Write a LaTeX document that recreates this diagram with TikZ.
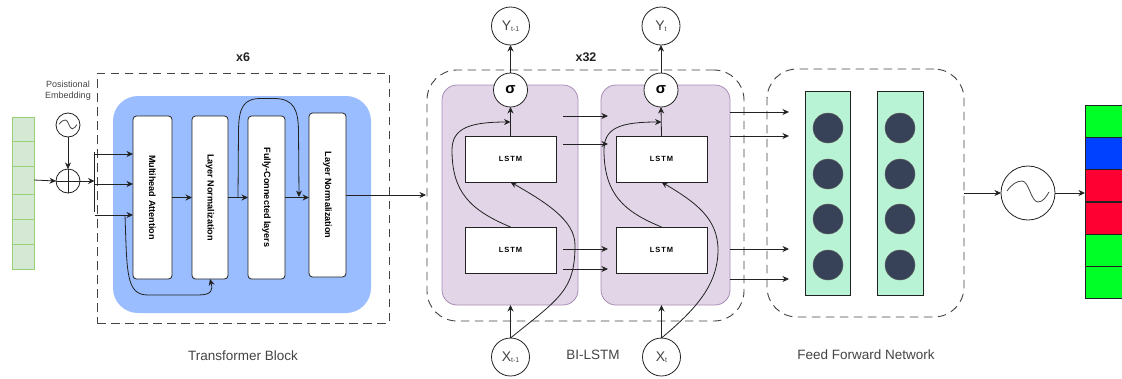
\documentclass[tikz,border=0pt]{standalone}
\usepackage{fontspec}
\setmainfont{Liberation Sans}
\usetikzlibrary{arrows.meta}
\definecolor{ink}{HTML}{222222}
\definecolor{labelgrey}{HTML}{444444}
\definecolor{dashgrey}{HTML}{444444}
\definecolor{inputfill}{HTML}{D5E8D4}
\definecolor{inputline}{HTML}{97D077}
\definecolor{bluefill}{HTML}{99BDFF}
\definecolor{purplefill}{HTML}{E1D5E7}
\definecolor{purpleline}{HTML}{A98BB8}
\definecolor{tealfill}{HTML}{B9F3D6}
\definecolor{neuron}{HTML}{374258}
\definecolor{outgreen}{HTML}{00FF26}
\definecolor{outblue}{HTML}{0040FF}
\definecolor{outred}{HTML}{FF0033}
\tikzset{
  every node/.style={inner sep=0pt,outer sep=0pt},
  wire/.style={draw=ink,line width=.8pt},
  arrow/.style={wire,-{Stealth[length=6.5pt,width=6pt]}},
  dashbox/.style={draw=dashgrey,line width=.9pt,dash pattern=on 8.5pt off 5.5pt},
  panel/.style={fill=bluefill,rounded corners=25pt},
  layerbox/.style={draw=ink,fill=white,line width=.8pt,rounded corners=3.5pt,font=\fontsize{9.1}{10}\selectfont\bfseries},
  lstmbox/.style={draw=ink,fill=white,line width=.8pt,minimum width=91pt,minimum height=46pt,font=\fontsize{7.5}{9}\selectfont\bfseries\addfontfeatures{LetterSpace=12}},
  purple/.style={draw=purpleline,fill=purplefill,line width=.8pt,rounded corners=15pt},
  ring/.style={circle,draw=ink,fill=white,line width=.8pt},
  term/.style={ring,minimum size=38pt,text=labelgrey},
  sigma/.style={ring,minimum size=34pt,font=\fontsize{15}{15}\selectfont\bfseries},
  incell/.style={draw=inputline,fill=inputfill,line width=.8pt,minimum width=22pt},
  outcell/.style={draw=ink,line width=.8pt,minimum width=40pt,minimum height=32.2pt},
  ffcol/.style={draw=ink,fill=tealfill,line width=.8pt},
  neuronnode/.style={circle,draw=ink!70,fill=neuron,line width=.5pt,minimum size=30pt},
  caption/.style={text=labelgrey,font=\fontsize{13.5}{15}\selectfont},
  count/.style={text=ink,font=\fontsize{12.5}{14}\selectfont\bfseries},
  wave/.style={draw=dashgrey,line width=.8pt}
}
\newcommand{\sinewave}[2]{%
  \begin{scope}[shift={(#1)},scale=#2]
    \draw[wave] (-21,-2) .. controls (-16,-9) and (-11,-12) .. (-6,-12)
      .. controls (1,-12) and (3,9) .. (10,9)
      .. controls (15,9) and (18,4) .. (21,-1);
  \end{scope}}
\newcommand{\termtext}[2]{{\fontsize{14}{14}\selectfont #1}{\raisebox{-1.5pt}{\fontsize{7}{7}\selectfont #2}}}
\begin{document}
\begin{tikzpicture}[x=1pt,y=-1pt]
\clip (0,0) rectangle (1122,378);
\fill[white] (0,0) rectangle (1122,378);

% input strip
\node[incell,minimum height=24pt] (c1) at (23,129) {};
\node[incell,minimum height=25pt] (c2) at (23,153.5) {};
\node[incell,minimum height=28pt] (c3) at (23,180) {};
\node[incell,minimum height=25pt] (c4) at (23,206.5) {};
\node[incell,minimum height=25pt] (c5) at (23,231.5) {};
\node[incell,minimum height=25pt] (c6) at (23,256.5) {};

% positional embedding
\node[text=labelgrey,align=center,font=\fontsize{9}{11.5}\selectfont] (pe) at (68,90.5) {Posistional\\Embedding};
\node[ring,minimum size=24pt] (sine) at (68,125) {};
\sinewave{68,125}{.42}
\node[ring,minimum size=24pt] (plus) at (68,181) {};
\draw[wire] (plus.north) -- (plus.south) (plus.west) -- (plus.east);
\coordinate (barmid) at (94.5,181);
\coordinate (tap1) at (94.5,154);
\coordinate (tap2) at (94.5,184);
\coordinate (tap3) at (94.5,215);

% transformer block
\node[dashbox,minimum width=292pt,minimum height=250pt] (tb) at (243,198) {};
\node[panel,minimum width=258pt,minimum height=217pt] (blue) at (242,204.5) {};
\node[layerbox,minimum width=39pt,minimum height=163pt] (mh) at (152.5,197.5) {\rotatebox{-90}{Multihead Attention}};
\node[layerbox,minimum width=36pt,minimum height=163pt] (ln1) at (210,197.5) {\rotatebox{-90}{Layer Normalization}};
\node[layerbox,minimum width=37pt,minimum height=163pt] (fc) at (266.5,197.5) {\rotatebox{-90}{Fully-Connected layers}};
\node[layerbox,minimum width=37pt,minimum height=164pt] (ln2) at (327.5,195) {\rotatebox{-90}{Layer Normalization}};
\node[count] (x6) at (243,57) {x6};
\node[caption] (tbl) at (243,356) {Transformer Block};

\draw[arrow] (c3.east) -- (plus.west);
\draw[arrow] (sine.south) -- (plus.north);
\draw[arrow] (plus.east) -- (barmid);
\draw[wire,line width=1pt] (94.5,152) -- (94.5,212);
\draw[arrow] (tap1) -- (mh.west |- tap1);
\draw[arrow] (tap2) -- (mh.west |- tap2);
\draw[arrow] (tap3) -- (mh.west |- tap3);
\draw[arrow] (mh.east) -- (ln1.west);
\draw[arrow] (ln1.east) -- (fc.west);
\draw[arrow] (fc.east) -- (ln2.west |- fc.east);
\draw[arrow] (ln2.east) -- (426,195);
\coordinate (skip1) at (125,215);
\coordinate (skip2) at (238,197.5);
\draw[arrow] (skip1) .. controls (127,273) and (126,295) .. (148,295)
  -- (198,295) .. controls (212,295) and (213,290) .. (ln1.south);
\draw[arrow] (skip2) -- (238.5,130) .. controls (239,108) and (243,98) .. (262,98.5)
  -- (275,98.5) .. controls (294,99) and (298,110) .. (298.5,130) -- (299,197);

% BI-LSTM block
\node[dashbox,rounded corners=30pt,minimum width=317pt,minimum height=251pt] (bi) at (585.5,195.5) {};
\node[purple,minimum width=136pt,minimum height=220pt] (p1) at (510,195) {};
\node[purple,minimum width=129pt,minimum height=220pt] (p2) at (665.5,195) {};
\node[lstmbox] (l1t) at (510.5,159) {LSTM};
\node[lstmbox] (l1b) at (510.5,250) {LSTM};
\node[lstmbox] (l2t) at (661.5,159) {LSTM};
\node[lstmbox] (l2b) at (661.5,250) {LSTM};
\node[sigma] (s1) at (510.5,90) {σ};
\node[sigma] (s2) at (661,90) {σ};
\node[term] (y1) at (510.5,26) {\termtext{Y}{t-1}};
\node[term] (y2) at (661,26) {\termtext{Y}{t}};
\node[term] (x1) at (510.5,357) {\termtext{X}{t-1}};
\node[term] (x2) at (661.5,357) {\termtext{X}{t}};
\node[count] (x32) at (586,57) {x32};
\node[caption] (bl) at (593,355) {BI-LSTM};

\draw[arrow] (s1.north) -- (y1.south);
\draw[arrow] (s2.north) -- (y2.south);
\draw[arrow] (l1t.north) -- (s1.south);
\draw[arrow] (l2t.north) -- (s2.south);
\draw[arrow] (x1.north) -- (x1 |- p1.south);
\draw[arrow] (x2.north) -- (x2 |- p2.south);
\coordinate (j1) at (510.5,122);
\coordinate (j2) at (661.5,122);
\draw[arrow] (l1b.north) .. controls (470,210) and (452,192) .. (452,150)
  .. controls (452,128) and (470,122) .. (j1);
\draw[arrow] (l2b.north) .. controls (625,212) and (604,195) .. (604,150)
  .. controls (604,128) and (620,122) .. (j2);
\draw[arrow] (x1.north) .. controls (560,298) and (575,290) .. (575,245)
  .. controls (575,220) and (545,202) .. (l1t.south);
\draw[arrow] (x2.north) .. controls (695,310) and (718,285) .. (718,250)
  .. controls (718,218) and (695,202) .. (l2t.south);
\draw[arrow] (563,116) -- (608,116);
\draw[arrow] (563,144) -- (608,144);
\draw[arrow] (563,249) -- (608,249);
\draw[arrow] (563,269) -- (608,269);

% feed forward network
\node[dashbox,rounded corners=30pt,minimum width=197pt,minimum height=248pt] (ff) at (865.5,193) {};
\node[ffcol,minimum width=45pt,minimum height=204pt] (col1) at (827.5,193) {};
\node[ffcol,minimum width=46pt,minimum height=204pt] (col2) at (900,193) {};
\node[neuronnode] (n11) at (828,128) {};
\node[neuronnode] (n12) at (828,174) {};
\node[neuronnode] (n13) at (828,219) {};
\node[neuronnode] (n14) at (828,265) {};
\node[neuronnode] (n21) at (900,128) {};
\node[neuronnode] (n22) at (900,174) {};
\node[neuronnode] (n23) at (900,219) {};
\node[neuronnode] (n24) at (900,265) {};
\node[caption] (fl) at (866,355) {Feed Forward Network};
\coordinate (in1) at (789,112);
\coordinate (in2) at (789,136);
\coordinate (in3) at (789,249);
\coordinate (in4) at (789,279);
\draw[arrow] (p2.east |- in1) -- (in1);
\draw[arrow] (p2.east |- in2) -- (in2);
\draw[arrow] (p2.east |- in3) -- (in3);
\draw[arrow] (p2.east |- in4) -- (in4);

% softmax and output
\node[ring,minimum size=54pt] (soft) at (1028,193) {};
\sinewave{1028,193}{1}
\node[outcell,fill=outgreen] (o1) at (1105,121) {};
\node[outcell,fill=outblue] (o2) at (1105,153) {};
\node[outcell,fill=outred] (o3) at (1105,185.5) {};
\node[outcell,fill=outred] (o4) at (1105,218) {};
\node[outcell,fill=outgreen] (o5) at (1105,250) {};
\node[outcell,fill=outgreen] (o6) at (1105,282) {};
\draw[arrow] (ff.east) -- (soft.west);
\draw[arrow] (soft.east) -- (o3.west |- soft.east);
\end{tikzpicture}
\end{document}
